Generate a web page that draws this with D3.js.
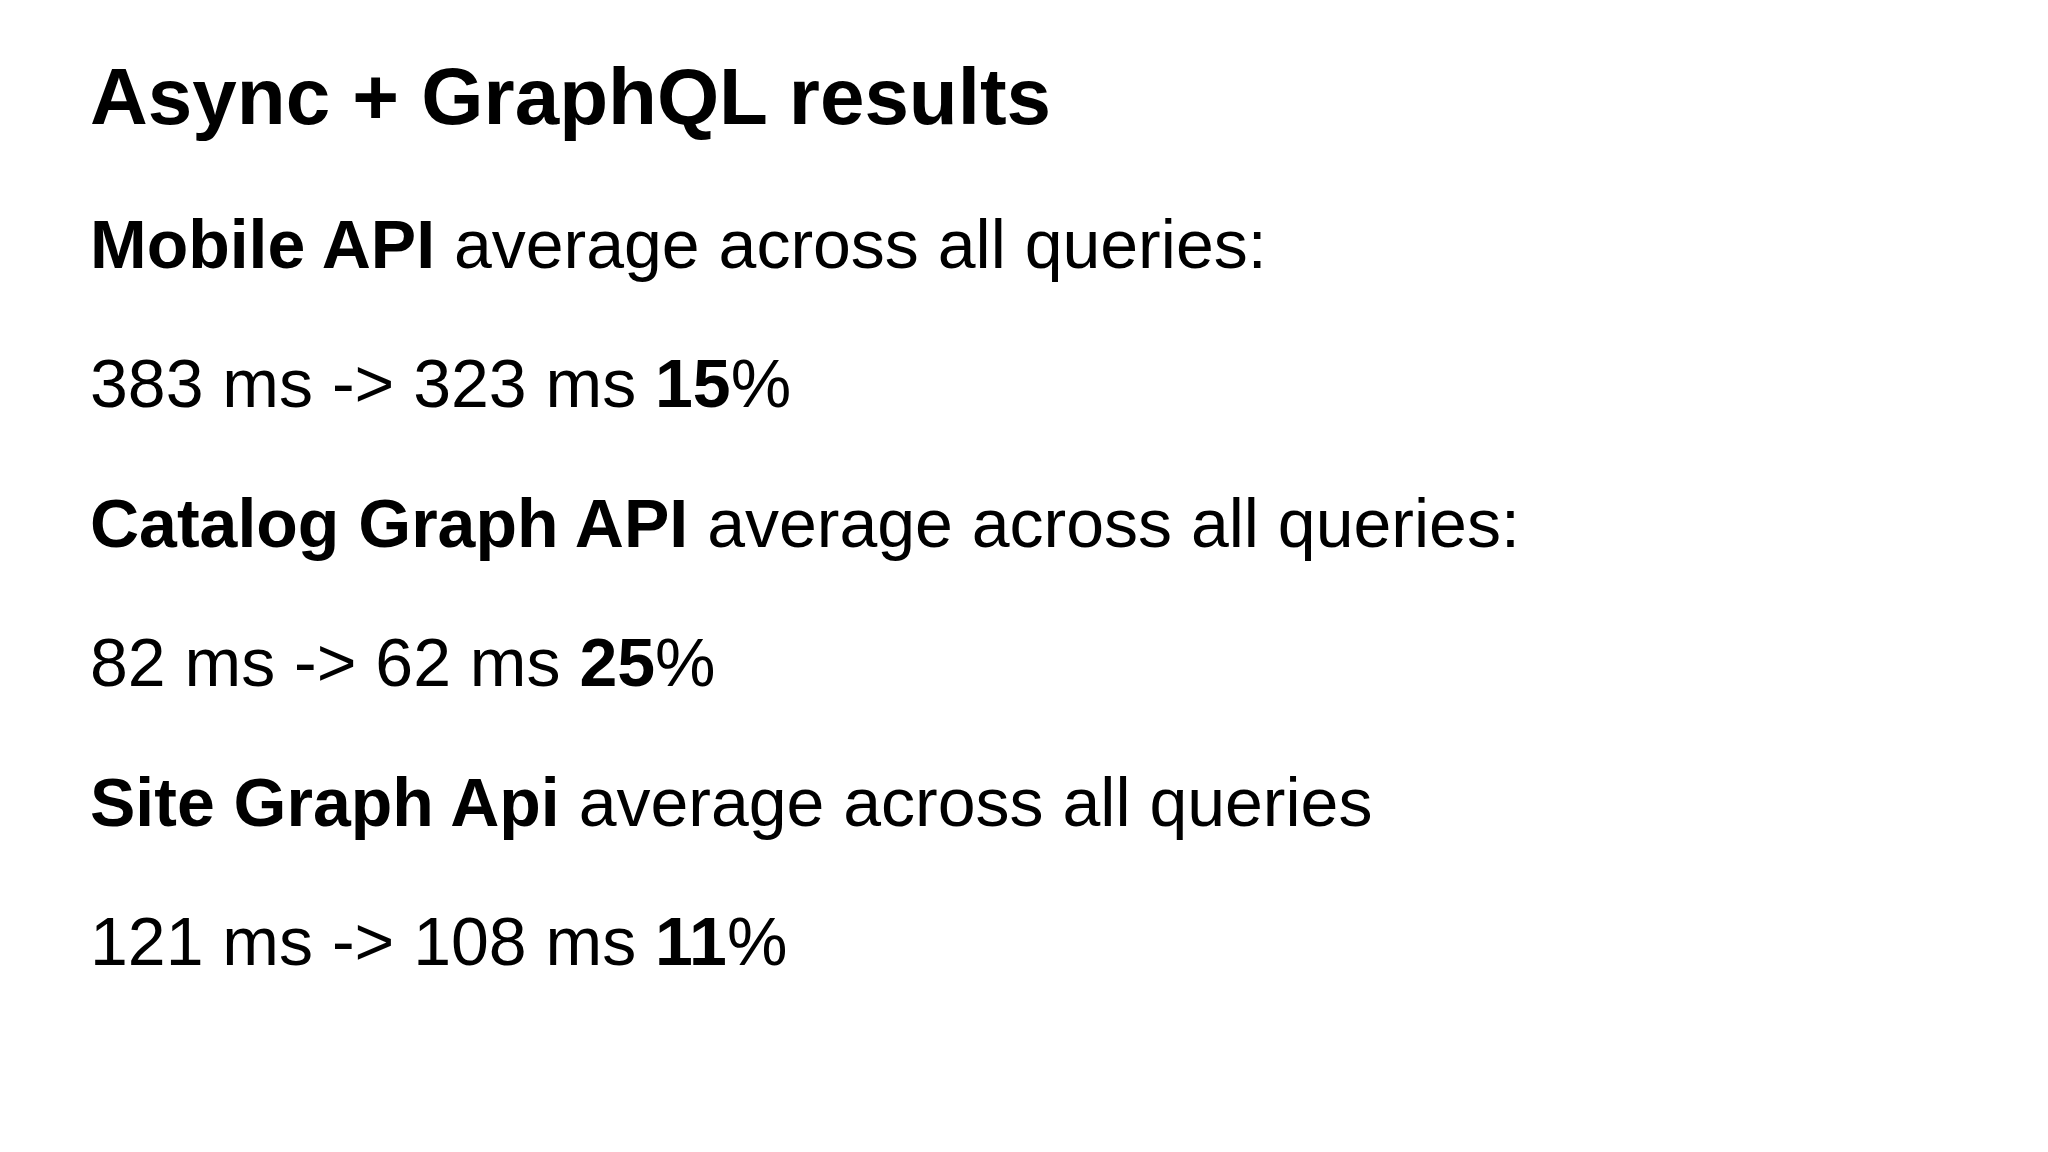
<!DOCTYPE html>
<html><head><meta charset="utf-8">
<script src="https://cdn.jsdelivr.net/npm/d3@7"></script>
<style>body{margin:0;background:#fff}</style></head>
<body><svg id="c" width="2048" height="1152"></svg>
<script>
const title = "Async + GraphQL results";
const apis = ["Mobile API", "Catalog Graph API", "Site Graph Api"];
const suffixes = [" average across all queries:", " average across all queries:", " average across all queries"];
const beforeMs = [383, 82, 121];
const afterMs = [323, 62, 108];
const pct = [15, 25, 11];

const svg = d3.select("#c");
const font = "'Liberation Sans', Arial, sans-serif";
const x = 90;
svg.append("text").attr("x", x).attr("y", 124).attr("font-family", font)
  .attr("font-size", 80).attr("font-weight", "bold").attr("fill", "#000").text(title);

const y = d3.scaleLinear().domain([0, 5]).range([268, 965]);
apis.forEach((a, i) => {
  const t1 = svg.append("text").attr("x", x).attr("y", y(i * 2)).attr("font-family", font)
    .attr("font-size", 68).attr("fill", "#000");
  t1.append("tspan").attr("font-weight", "bold").text(a);
  t1.append("tspan").text(suffixes[i]);
  const t2 = svg.append("text").attr("x", x).attr("y", y(i * 2 + 1)).attr("font-family", font)
    .attr("font-size", 68).attr("fill", "#000");
  t2.append("tspan").text(`${beforeMs[i]} ms -> ${afterMs[i]} ms `);
  t2.append("tspan").attr("font-weight", "bold").text(pct[i]);
  t2.append("tspan").text("%");
});
</script></body></html>
